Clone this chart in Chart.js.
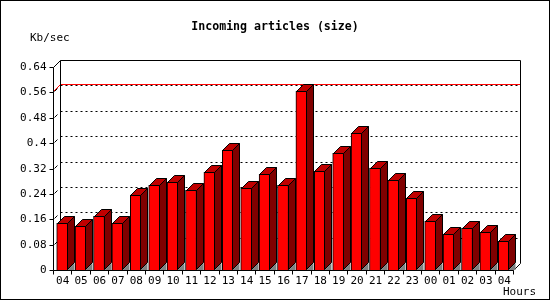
<!DOCTYPE html>
<html>
<head>
<meta charset="utf-8">
<title>Incoming articles (size)</title>
<script src="https://cdn.jsdelivr.net/npm/chart.js@4.4.0/dist/chart.umd.min.js"></script>
<style>
  html, body { margin: 0; padding: 0; background: #fff; }
  canvas { display: block; }
</style>
</head>
<body>
<canvas id="sizeChart" width="550" height="300"></canvas>
<script>
  // Données
  const hours = ['04', '05', '06', '07', '08', '09', '10', '11', '12', '13', '14', '15', '16',
                 '17', '18', '19', '20', '21', '22', '23', '00', '01', '02', '03', '04'];
  const kbPerSec = [0.147, 0.138, 0.169, 0.147, 0.236, 0.267, 0.277, 0.251, 0.308, 0.377, 0.258, 0.302, 0.267,
                    0.564, 0.311, 0.368, 0.431, 0.321, 0.283, 0.226, 0.154, 0.113, 0.132, 0.119, 0.090];
  const yTicks = [0, 0.08, 0.16, 0.24, 0.32, 0.4, 0.48, 0.56, 0.64];
  const yTickLabels = ['0', '0.08', '0.16', '0.24', '0.32', '0.4', '0.48', '0.56', '0.64'];

  const DEPTH = 7;
  const FONT = '11px "DejaVu Sans Mono", monospace';
  const TITLE_FONT = 'bold 11.6px "DejaVu Sans Mono", monospace';

  const px = v => Math.round(v) + 0.5;

  function line(ctx, x1, y1, x2, y2) {
    ctx.beginPath();
    ctx.moveTo(x1, y1);
    ctx.lineTo(x2, y2);
    ctx.stroke();
  }

  function poly(ctx, pts, fill) {
    ctx.beginPath();
    ctx.moveTo(pts[0][0], pts[0][1]);
    for (let i = 1; i < pts.length; i++) ctx.lineTo(pts[i][0], pts[i][1]);
    ctx.closePath();
    ctx.fillStyle = fill;
    ctx.fill();
  }

  // Fond en 3D : mur du fond, grille, axes
  const box3d = {
    id: 'box3d',
    beforeDatasetsDraw(chart) {
      const { ctx, chartArea: a, scales: { x, y } } = chart;
      const L = px(a.left), R = px(a.right), T = px(a.top), B = px(a.bottom);
      const D = DEPTH;
      ctx.save();
      ctx.lineWidth = 1;
      ctx.strokeStyle = '#000';

      // grille pointillée sur le mur du fond
      ctx.setLineDash([2, 3]);
      yTicks.forEach(v => {
        if (v === 0 || v === yTicks[yTicks.length - 1]) return;
        const yy = px(y.getPixelForValue(v));
        line(ctx, L + D, yy - D, R + D, yy - D);
      });
      ctx.setLineDash([]);

      // petites diagonales sur le mur gauche
      yTicks.forEach(v => {
        if (v === 0) return;
        const yy = px(y.getPixelForValue(v));
        line(ctx, L + 1, yy - 1, L + 4, yy - 4);
      });

      // ligne rouge = maximum
      const maxV = Math.max(...kbPerSec);
      const ym = px(y.getPixelForValue(maxV));
      ctx.strokeStyle = '#ff0000';
      line(ctx, L, ym, L + D, ym - D);
      line(ctx, L + D, ym - D, R + D, ym - D);
      ctx.strokeStyle = '#000';

      // cadre
      line(ctx, L + D, T - D, R + D, T - D);
      line(ctx, R + D, T - D, R + D, B - D);
      line(ctx, R + D, B - D, R, B);
      line(ctx, L + D, T - D, L + D, B - D);
      line(ctx, L, T, L + D, T - D);
      line(ctx, L, T, L, B);
      line(ctx, L, B, R, B);

      // graduations Y
      ctx.font = FONT;
      ctx.fillStyle = '#000';
      ctx.textAlign = 'right';
      ctx.textBaseline = 'middle';
      yTicks.forEach((v, i) => {
        const yy = px(y.getPixelForValue(v));
        line(ctx, L - 4, yy, L, yy);
        ctx.fillText(yTickLabels[i], L - 7, yy);
      });

      // graduations X
      const step = x.getPixelForValue(1) - x.getPixelForValue(0);
      for (let i = 0; i <= hours.length; i++) {
        const xx = px(x.getPixelForValue(0) - step / 2 + i * step);
        line(ctx, xx, B, xx, B + 4);
      }
      ctx.textAlign = 'center';
      hours.forEach((h, i) => {
        ctx.fillText(h, x.getPixelForValue(i) + 0.5, B + 11);
      });
      ctx.restore();
    },

    // faces du dessus et de côté des barres
    afterDatasetsDraw(chart) {
      const { ctx } = chart;
      const D = DEPTH;
      ctx.save();
      ctx.lineWidth = 1;
      ctx.strokeStyle = '#000';
      chart.getDatasetMeta(0).data.forEach(bar => {
        const l = Math.round(bar.x - bar.width / 2);
        const r = Math.round(bar.x + bar.width / 2) - 1;
        const t = Math.round(bar.y);
        const b = Math.round(bar.base) - 1;
        poly(ctx, [[r + 0.5, b + 1], [r + D + 0.5, b + 1 - D], [r + D + 0.5, b + 1]], '#808080');
        poly(ctx, [[l + 0.5, t + 0.5], [l + D + 0.5, t - D + 0.5], [r + D + 0.5, t - D + 0.5], [r + 0.5, t + 0.5]], '#c00000');
        ctx.stroke();
        poly(ctx, [[r + 0.5, t + 0.5], [r + D + 0.5, t - D + 0.5], [r + D + 0.5, b - D + 0.5], [r + 0.5, b + 0.5]], '#800000');
        ctx.stroke();
      });
      ctx.restore();
    },

    // textes et bordure de l'image
    afterDraw(chart) {
      const { ctx } = chart;
      ctx.save();
      ctx.fillStyle = '#000';
      ctx.font = TITLE_FONT;
      ctx.textAlign = 'center';
      ctx.textBaseline = 'middle';
      ctx.fillText('Incoming articles (size)', 275, 27);
      ctx.font = FONT;
      ctx.textAlign = 'left';
      ctx.fillText('Kb/sec', 30, 38);
      ctx.fillText('Hours', 503, 292);
      ctx.strokeStyle = '#000';
      ctx.lineWidth = 1;
      ctx.strokeRect(0.5, 0.5, 549, 299);
      ctx.restore();
    }
  };

  const sizeChart = new Chart(document.getElementById('sizeChart').getContext('2d'), {
    type: 'bar',
    data: {
      labels: hours,
      datasets: [{
        data: kbPerSec,
        backgroundColor: '#ff0000',
        borderColor: '#000',
        borderWidth: 1,
        barThickness: 11
      }]
    },
    options: {
      responsive: false,
      animation: false,
      events: [],
      layout: { padding: { left: 53, right: 37, top: 67, bottom: 30 } },
      plugins: {
        legend: { display: false },
        tooltip: { enabled: false },
        title: { display: false }
      },
      scales: {
        x: { display: false },
        y: { display: false, min: 0, max: 0.64 }
      }
    },
    plugins: [box3d]
  });
</script>
</body>
</html>
